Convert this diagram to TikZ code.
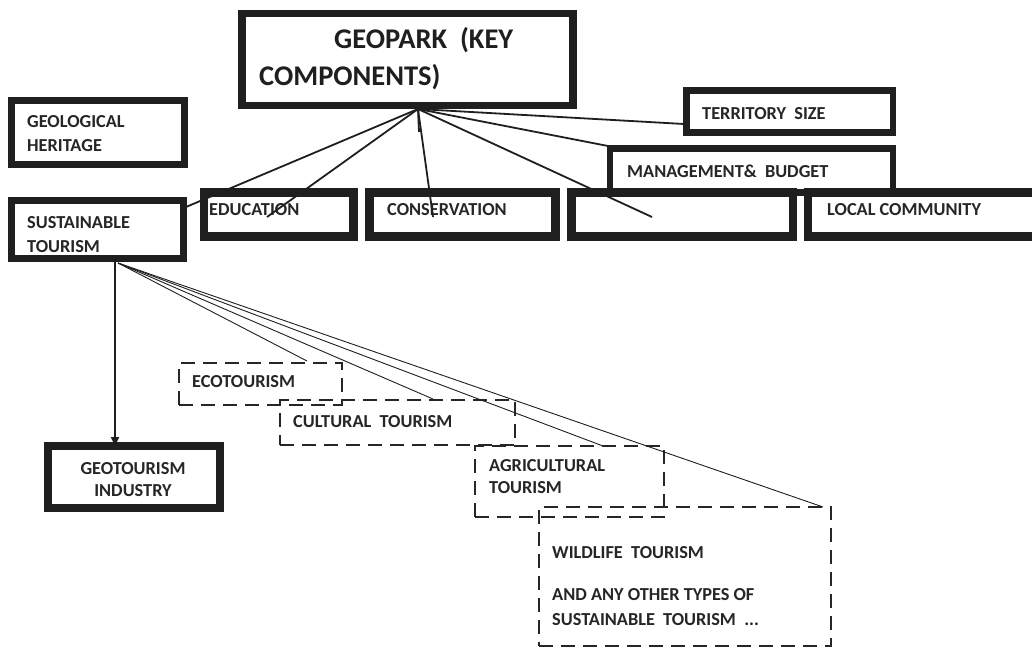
\documentclass[tikz,border=0pt]{standalone}
\usepackage{fontspec}
\setmainfont{Carlito}
\usetikzlibrary{arrows.meta}
\begin{document}
\begin{tikzpicture}[x=1pt,y=-1pt,
  box/.style={draw=black!88, rectangle, inner sep=0pt, outer sep=0pt},
  dbox/.style={draw=black!85, rectangle, inner sep=0pt, outer sep=0pt, line width=2.4pt, dash pattern=on 14pt off 8pt},
  lbl/.style={anchor=base west, inner sep=0pt, font=\bfseries\fontsize{18.3}{22}\selectfont, text=black!85},
  big/.style={anchor=base west, inner sep=0pt, font=\bfseries\fontsize{28.5}{32}\selectfont, text=black!88},
  conn/.style={draw=black!88, line width=1.8pt},
  thin/.style={draw=black!88, line width=0.9pt}]
\clip (0,0) rectangle (1032,647);
\fill[white] (0,0) rectangle (1032,647);
% thick boxes
\node[box, line width=7.8pt, minimum width=331pt, minimum height=92pt] (geopark) at (407.5,59.5) {};
\node[box, line width=6.7pt, minimum width=173pt, minimum height=64pt] (heritage) at (98.3,132.2) {};
\node[box, line width=7pt, minimum width=172pt, minimum height=58.5pt] (sust) at (97.5,229.25) {};
\node[box, line width=6.8pt, minimum width=206.5pt, minimum height=42.5pt] (territory) at (789.75,111.5) {};
\node[box, line width=6.5pt, minimum width=283pt, minimum height=44pt] (manage) at (751.5,170.5) {};
\node[box, line width=8.8pt, minimum width=149.5pt, minimum height=44pt] (edu) at (278.75,214.5) {};
\node[box, line width=8.8pt, minimum width=186pt, minimum height=44pt] (cons) at (462.5,214.5) {};
\node[box, line width=8.8pt, minimum width=221.5pt, minimum height=44pt] (third) at (682.25,214.5) {};
\node[box, line width=8.8pt, minimum width=242pt, minimum height=44pt] (local) at (929,214.5) {};
\node[box, line width=7.5pt, minimum width=172pt, minimum height=62pt] (geotour) at (134,477) {};
% dashed boxes
\node[dbox, minimum width=163pt, minimum height=42pt] (eco) at (260.5,384) {};
\node[dbox, minimum width=235pt, minimum height=45pt] (cult) at (397.5,422.5) {};
\node[dbox, minimum width=189pt, minimum height=71pt] (agri) at (569.5,481.5) {};
\node[dbox, minimum width=292pt, minimum height=139pt] (wild) at (685,576.5) {};
% texts
\node[big] (t1) at (334,49) {GEOPARK\ \ (KEY};
\node[big] (t2) at (259,86) {COMPONENTS)};
\node[lbl] (t3) at (27,128) {GEOLOGICAL};
\node[lbl] (t4) at (27,151.7) {HERITAGE};
\node[lbl] (t5) at (27,228.3) {SUSTAINABLE};
\node[lbl] (t6) at (27,252.3) {TOURISM};
\node[lbl] (t7) at (209,215) {EDUCATION};
\node[lbl] (t8) at (387,215) {CONSERVATION};
\node[lbl] (t9) at (827,215) {LOCAL COMMUNITY};
\node[lbl] (t10) at (702,120) {TERRITORY\ \ SIZE};
\node[lbl] (t11) at (627,178) {MANAGEMENT\&\ \ BUDGET};
\node[lbl, anchor=base] (t12) at (133,474.3) {GEOTOURISM};
\node[lbl, anchor=base] (t13) at (133,496.7) {INDUSTRY};
\node[lbl] (t14) at (192,387.7) {ECOTOURISM};
\node[lbl] (t15) at (293,427.7) {CULTURAL\ \ TOURISM};
\node[lbl] (t16) at (489,471) {AGRICULTURAL};
\node[lbl] (t17) at (489,493.3) {TOURISM};
\node[lbl] (t18) at (552,558.3) {WILDLIFE\ \ TOURISM};
\node[lbl] (t19) at (552,600) {AND ANY OTHER TYPES OF};
\node[lbl] (t20) at (552,625) {SUSTAINABLE\ \ TOURISM\ \ ...};
% connector points
\coordinate (hub) at (418,109);
\coordinate (hubst) at (419,132);
\coordinate (pS) at (186,207);
\coordinate (pE) at (267,217);
\coordinate (pC) at (433,217);
\coordinate (pT) at (652,217);
\coordinate (pM) at (608,146);
\coordinate (pTe) at (684,124);
\coordinate (st) at (118,263);
\coordinate (stv) at (115,262);
\coordinate (pEco) at (307,361);
\coordinate (pCu) at (433,399);
\coordinate (pAg) at (603,446);
\coordinate (pWi) at (823,507);
\draw[conn] (hub) -- (pS);
\draw[conn] (hub) -- (pE);
\draw[conn] (hub) -- (hubst);
\draw[conn] (hub) -- (pC);
\draw[conn] (hub) -- (pT);
\draw[conn] (hub) -- (pM);
\draw[conn] (hub) -- (pTe);
\draw[thin] (st) -- (pEco);
\draw[thin] (st) -- (pCu);
\draw[thin] (st) -- (pAg);
\draw[thin] (st) -- (pWi);
\draw[conn, -{Triangle[length=9pt,width=8pt]}] (stv) -- (stv |- geotour.north);
\end{tikzpicture}
\end{document}
